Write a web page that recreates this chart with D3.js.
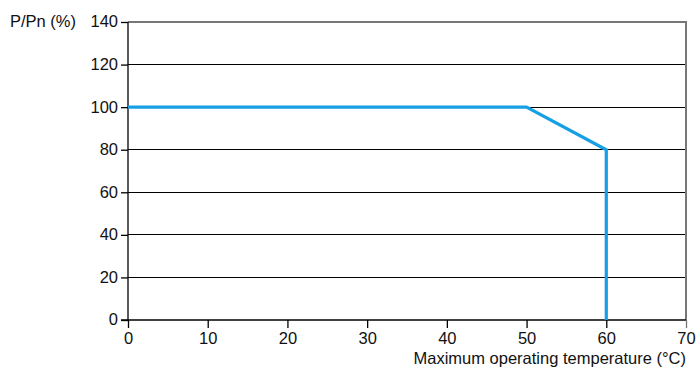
<!DOCTYPE html>
<html><head><meta charset="utf-8">
<script src="https://cdn.jsdelivr.net/npm/d3@7"></script>
<style>body{margin:0;background:#fff}svg{display:block}text{font-family:"Liberation Sans",Arial,sans-serif;fill:#111}</style>
</head><body><svg id="c" width="696" height="367"></svg>
<script>
const tempC = [0, 50, 60, 60];
const powerPct = [100, 100, 80, 0];
const xTicks = [0, 10, 20, 30, 40, 50, 60, 70];
const yTicks = [0, 20, 40, 60, 80, 100, 120, 140];
const yTitle = "P/Pn (%)";
const xTitle = "Maximum operating temperature (°C)";

const svg = d3.select("#c");
const L = 128, R = 686, T = 22, B = 320;
const x = d3.scaleLinear().domain([0, 70]).range([L, R]);
const y = d3.scaleLinear().domain([0, 140]).range([B, T]);
const FS = 16.5;

svg.append("g").selectAll("line").data(yTicks.filter(d => d > 0 && d < 140)).join("line")
  .attr("x1", L).attr("x2", R).attr("y1", d => y(d)).attr("y2", d => y(d))
  .attr("stroke", "#000").attr("stroke-width", 1).attr("shape-rendering", "crispEdges");
svg.append("line").attr("x1", L).attr("x2", R + 1).attr("y1", y(140)).attr("y2", y(140))
  .attr("stroke", "#777").attr("stroke-width", 2);
svg.append("line").attr("x1", R).attr("x2", R).attr("y1", y(140)).attr("y2", B)
  .attr("stroke", "#777").attr("stroke-width", 2);

const yAxis = d3.axisLeft(y).tickValues(yTicks).tickSize(7).tickPadding(3).tickFormat(d3.format("d"));
const gy = svg.append("g").attr("transform", `translate(${L},0)`).call(yAxis);
const xAxis = d3.axisBottom(x).tickValues(xTicks).tickSize(8).tickPadding(4).tickFormat(d3.format("d"));
const gx = svg.append("g").attr("transform", `translate(0,${B})`).call(xAxis);
[gy, gx].forEach(g => {
  g.select(".domain").attr("stroke", "#000").attr("stroke-width", 1.3);
  g.selectAll(".tick line").attr("stroke", "#000").attr("stroke-width", 1.3);
  g.selectAll(".tick text").attr("font-size", FS).attr("fill", "#111")
    .attr("font-family", '"Liberation Sans",Arial,sans-serif');
});
gy.select(".domain").attr("d", `M0,${T}V${B}`);
gx.select(".domain").attr("d", `M${L - 7},0H${R}`);
gx.selectAll(".tick").filter(d => d === 70).select("line").attr("stroke", "#777");
gy.selectAll(".tick text").attr("dy", "0.3em");

const line = d3.line().x((d, i) => x(tempC[i])).y(d => y(d));
svg.append("path").datum(powerPct).attr("d", line)
  .attr("fill", "none").attr("stroke", "#16a0e3").attr("stroke-width", 3.2)
  .attr("stroke-linejoin", "miter");

svg.append("text").attr("x", 10).attr("y", y(140) + 5).attr("font-size", FS).text(yTitle);
svg.append("text").attr("x", R).attr("y", 364).attr("text-anchor", "end").attr("font-size", FS).text(xTitle);
</script></body></html>
